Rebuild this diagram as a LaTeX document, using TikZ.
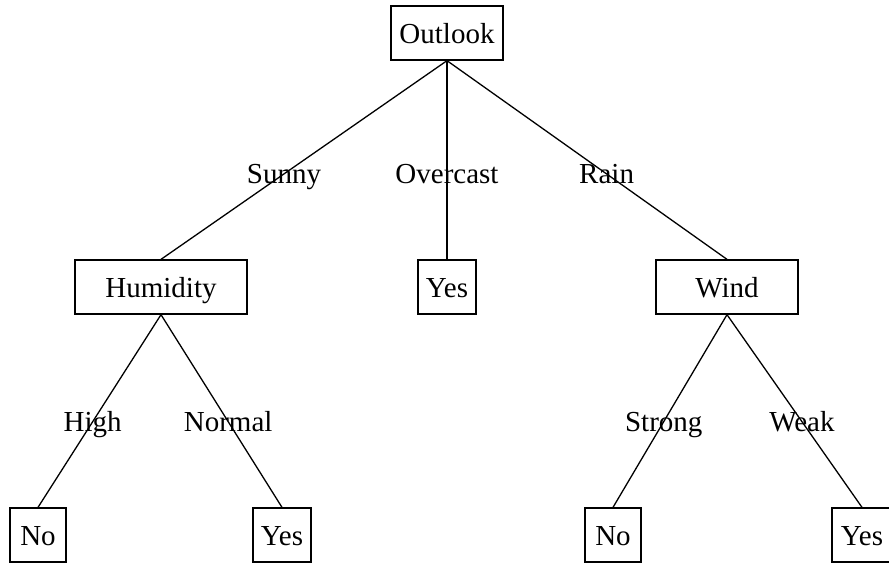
\documentclass[tikz,border=0pt]{standalone}
\usepackage{fontspec}
\setmainfont{Liberation Serif}
\usetikzlibrary{positioning}

\tikzset{
  attr/.style={draw, rectangle, inner sep=0pt, minimum height=27pt, text height=10pt, text depth=0pt, font=\fontsize{14.5}{16}\selectfont},
  leaf/.style={attr, minimum width=29pt},
  branch/.style={font=\fontsize{14.5}{16}\selectfont, inner sep=0pt, text height=10pt, text depth=0pt},
}

\begin{document}
\begin{tikzpicture}[x=0.5pt, y=-0.5pt, line width=0.65pt]
  \useasboundingbox (0,0) rectangle (889,564);
  % attribute nodes
  \node [attr, minimum width=56pt] (Outlook) at (447,33) {Outlook};
  \node [attr, minimum width=86pt] (Humidity) at (161,287) {Humidity};
  \node [leaf] (YesOver) at (447,287) {Yes};
  \node [attr, minimum width=71pt] (Wind) at (727,287) {Wind};
  % leaves
  \node [leaf, minimum width=28pt] (NoHigh) at (38,535) {No};
  \node [leaf] (YesNormal) at (282,535) {Yes};
  \node [leaf, minimum width=28pt] (NoStrong) at (613,535) {No};
  \node [leaf, minimum width=30pt] (YesWeak) at (862,535) {Yes};

  \draw (Outlook.south) -- node [branch, pos=0.57] {Sunny} (Humidity.north);
  \draw (Outlook.south) -- node [branch, pos=0.57] {Overcast} (YesOver.north);
  \draw (Outlook.south) -- node [branch, pos=0.57] {Rain} (Wind.north);
  \draw (Humidity.south) -- node [branch, pos=0.555] {High} (NoHigh.north);
  \draw (Humidity.south) -- node [branch, pos=0.555] {Normal} (YesNormal.north);
  \draw (Wind.south) -- node [branch, pos=0.555] {Strong} (NoStrong.north);
  \draw (Wind.south) -- node [branch, pos=0.555] {Weak} (YesWeak.north);
\end{tikzpicture}
\end{document}
